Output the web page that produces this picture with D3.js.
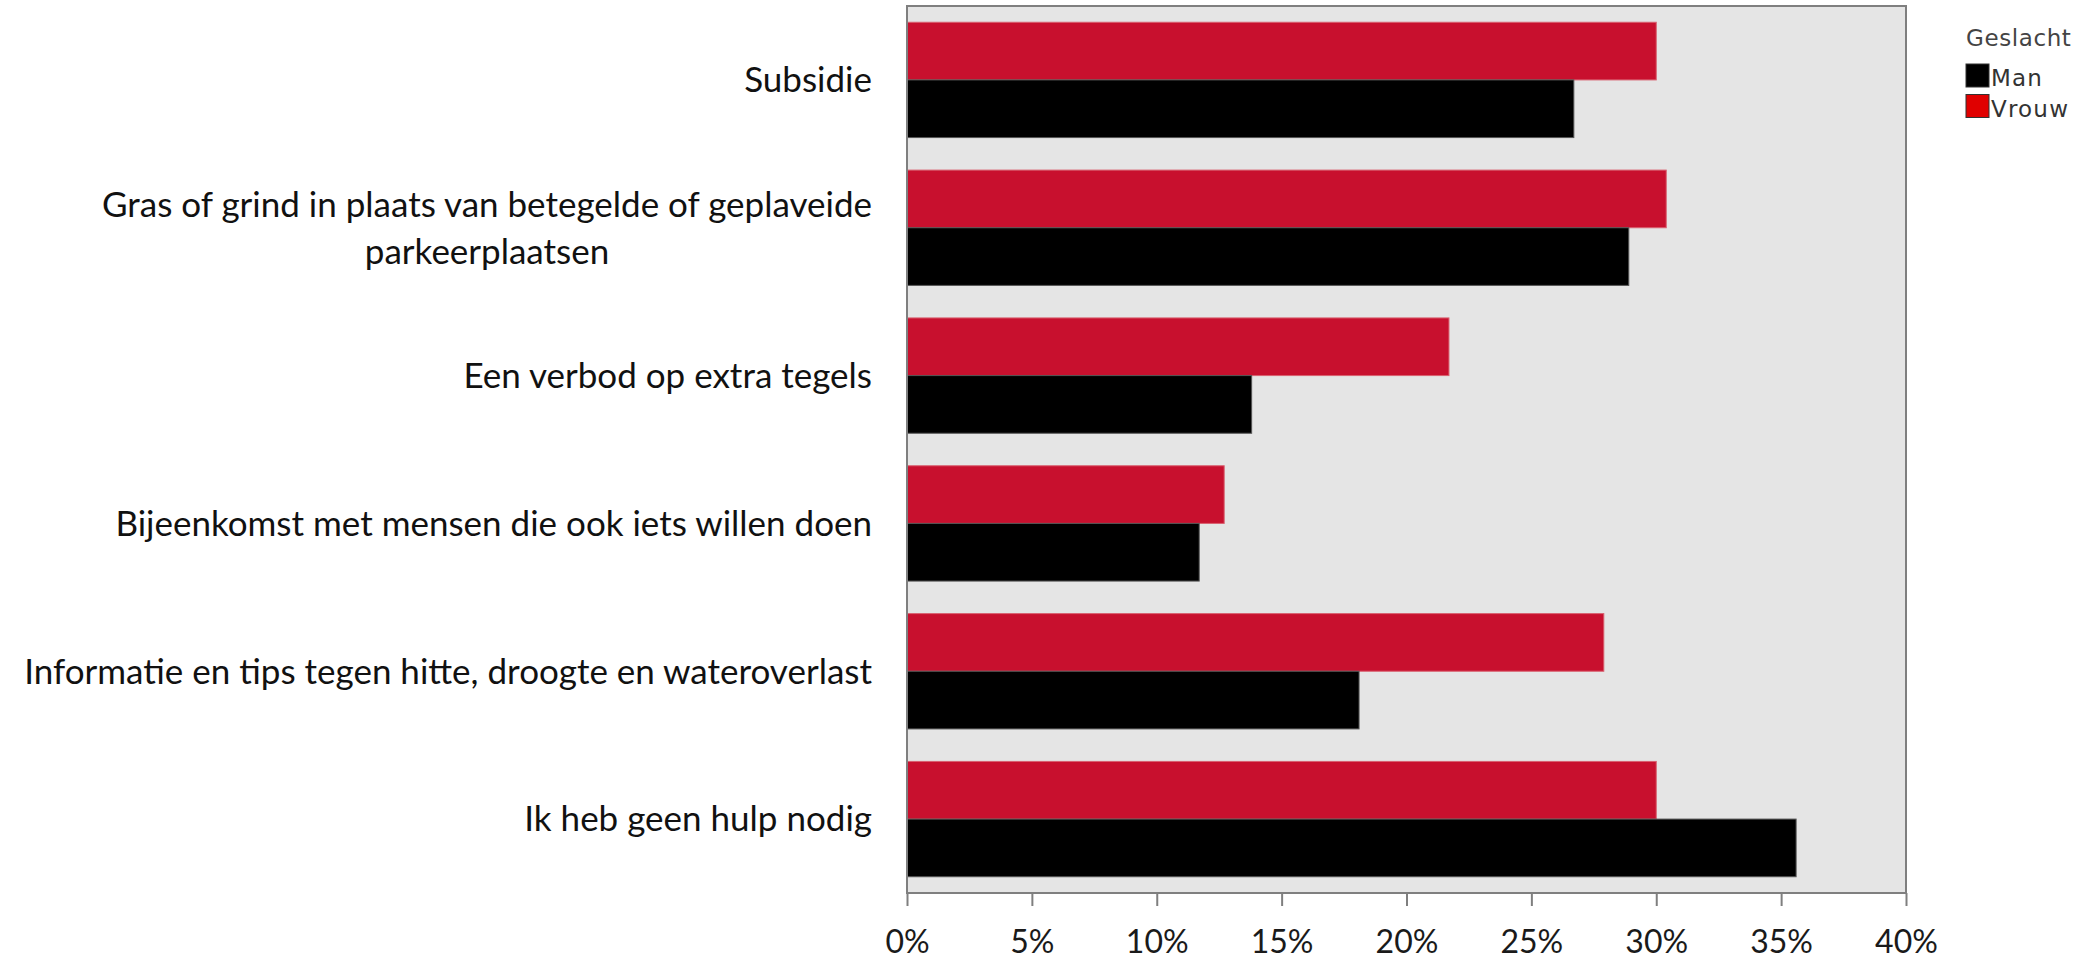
<!DOCTYPE html>
<html>
<head>
<meta charset="utf-8">
<script src="https://cdn.jsdelivr.net/npm/d3@7"></script>
<style>
  html, body { margin: 0; padding: 0; background: #fff; }
  svg { display: block; }
</style>
</head>
<body>
<svg id="chart" width="2096" height="959"></svg>
<script>
// ---- data ----
const categories = [
  "Subsidie",
  "Gras of grind in plaats van betegelde of geplaveide parkeerplaatsen",
  "Een verbod op extra tegels",
  "Bijeenkomst met mensen die ook iets willen doen",
  "Informatie en tips tegen hitte, droogte en wateroverlast",
  "Ik heb geen hulp nodig"
];
const labelLines = [
  ["Subsidie"],
  ["Gras of grind in plaats van betegelde of geplaveide", "parkeerplaatsen"],
  ["Een verbod op extra tegels"],
  ["Bijeenkomst met mensen die ook iets willen doen"],
  ["Informatie en tips tegen hitte, droogte en wateroverlast"],
  ["Ik heb geen hulp nodig"]
];
const seriesNames = ["Vrouw", "Man"];
const vrouwValues = [0.300, 0.304, 0.217, 0.127, 0.279, 0.300];
const manValues   = [0.267, 0.289, 0.138, 0.117, 0.181, 0.356];
const tickValues  = [0, 0.05, 0.10, 0.15, 0.20, 0.25, 0.30, 0.35, 0.40];
const legendTitle = "Geslacht";
const legendItems = ["Man", "Vrouw"];

// ---- layout ----
const svg = d3.select("#chart");
const plot = { left: 907, right: 1906, top: 6, bottom: 893 };

const x = d3.scaleLinear().domain([0, 0.40]).range([plot.left, plot.right]);
const y = d3.scaleBand().domain(categories).range([plot.top, plot.bottom])
  .paddingInner(0.22).paddingOuter(0.11);
const ySub = d3.scaleBand().domain(seriesNames).range([0, y.bandwidth()]);
const color = d3.scaleOrdinal().domain(seriesNames).range(["#c8102e", "#000000"]);
const strokeColor = d3.scaleOrdinal().domain(seriesNames).range(["#d9606f", "#555555"]);

// plot background
svg.append("rect")
  .attr("x", plot.left).attr("y", plot.top)
  .attr("width", plot.right - plot.left).attr("height", plot.bottom - plot.top)
  .attr("fill", "#e5e5e5");

// bars
const rows = categories.map((c, i) => ({ cat: c, values: [
  { s: "Vrouw", v: vrouwValues[i] },
  { s: "Man", v: manValues[i] }
]}));

const g = svg.append("g");
g.selectAll("g.row").data(rows).join("g")
  .attr("class", "row")
  .attr("transform", d => `translate(0,${y(d.cat)})`)
  .selectAll("rect").data(d => d.values).join("rect")
  .attr("x", x(0))
  .attr("y", d => ySub(d.s))
  .attr("width", d => x(d.v) - x(0))
  .attr("height", ySub.bandwidth())
  .attr("fill", d => color(d.s))
  .attr("stroke", d => strokeColor(d.s))
  .attr("stroke-width", 1);

// plot border
svg.append("rect")
  .attr("x", plot.left).attr("y", plot.top)
  .attr("width", plot.right - plot.left).attr("height", plot.bottom - plot.top)
  .attr("fill", "none")
  .attr("stroke", "#7f7f7f").attr("stroke-width", 2);

// x axis
const xAxis = d3.axisBottom(x).tickValues(tickValues)
  .tickFormat(d3.format(".0%")).tickSizeInner(13).tickSizeOuter(0).tickPadding(24);
const ax = svg.append("g").attr("transform", `translate(0,${plot.bottom})`).call(xAxis);
ax.select(".domain").remove();
ax.selectAll(".tick line").attr("stroke", "#7f7f7f").attr("stroke-width", 2);
ax.selectAll(".tick text")
  .attr("font-family", "Lato, 'Open Sans', sans-serif")
  .attr("font-size", 32)
  .attr("fill", "#1a1a1a")
  .attr("dy", "0.71em");

// category labels
const labelFont = "Lato, 'Open Sans', sans-serif";
const labelRight = 872;
const lineGap = 47;
const lab = svg.append("g");
rows.forEach((r, i) => {
  const lines = labelLines[i];
  const cy = y(r.cat) + y.bandwidth() / 2;
  const t = lab.append("text")
    .attr("font-family", labelFont)
    .attr("font-size", 35)
    .attr("fill", "#111");
  if (lines.length === 1) {
    t.attr("x", labelRight).attr("y", cy).attr("dy", "0.35em")
      .attr("text-anchor", "end").text(lines[0]);
  } else {
    const tmp = t.append("tspan").text(lines[0]);
    const w = tmp.node().getComputedTextLength();
    tmp.remove();
    const cx = labelRight - w / 2;
    t.attr("text-anchor", "middle");
    lines.forEach((ln, k) => {
      t.append("tspan")
        .attr("x", cx)
        .attr("y", cy + (k - (lines.length - 1) / 2) * lineGap)
        .attr("dy", "0.35em")
        .text(ln);
    });
  }
});

// legend
const legendFont = "'DejaVu Sans', Verdana, sans-serif";
const lg = svg.append("g");
lg.append("text")
  .attr("x", 1966).attr("y", 46)
  .attr("font-family", legendFont).attr("font-size", 23)
  .attr("letter-spacing", 0.6)
  .attr("fill", "#444")
  .text(legendTitle);
const legendColor = d3.scaleOrdinal().domain(legendItems).range(["#000000", "#e00000"]);
legendItems.forEach((name, i) => {
  const yy = 64 + i * 30.5;
  lg.append("rect")
    .attr("x", 1966).attr("y", yy)
    .attr("width", 23).attr("height", 23)
    .attr("fill", legendColor(name))
    .attr("stroke", "#333").attr("stroke-width", 1);
  lg.append("text")
    .attr("x", 1991).attr("y", yy + 22)
    .attr("font-family", legendFont).attr("font-size", 23)
    .attr("letter-spacing", 1.2)
    .attr("fill", "#333")
    .text(name);
});
</script>
</body>
</html>
